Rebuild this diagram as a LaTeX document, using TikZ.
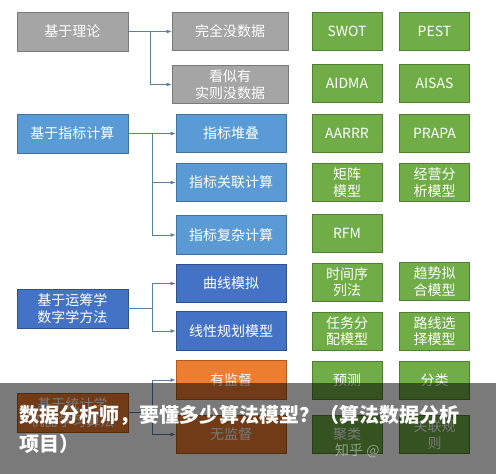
\documentclass[tikz,border=0pt]{standalone}
\usepackage{fontspec}
\setmainfont{Noto Sans CJK SC}
\usetikzlibrary{arrows.meta}
\definecolor{gfill}{HTML}{A5A5A5}\definecolor{gdraw}{HTML}{7A7A7A}
\definecolor{lbfill}{HTML}{5B9BD5}\definecolor{lbdraw}{HTML}{41719C}
\definecolor{dbfill}{HTML}{4472C4}\definecolor{dbdraw}{HTML}{2F528F}
\definecolor{ofill}{HTML}{ED7D31}\definecolor{odraw}{HTML}{AE5A21}
\definecolor{grfill}{HTML}{70AD47}\definecolor{grdraw}{HTML}{507E32}
\definecolor{conncol}{HTML}{5B7FA3}
\tikzset{
  box/.style={draw, line width=0.8pt, text=white, align=center, inner sep=0pt,
    font=\fontsize{14}{16.5}\selectfont},
  lbox/.style={box, minimum width=111pt, minimum height=39pt},
  mgbox/.style={box, minimum width=116pt, minimum height=38pt, fill=gfill, draw=gdraw},
  mbox/.style={box, minimum width=110pt, minimum height=38.5pt},
  gbox/.style={box, minimum width=70pt, minimum height=38pt, fill=grfill, draw=grdraw},
  grayc/.style={fill=gfill, draw=gdraw},
  lblue/.style={fill=lbfill, draw=lbdraw},
  dblue/.style={fill=dbfill, draw=dbdraw},
  orng/.style={fill=ofill, draw=odraw},
  conn/.style={draw=conncol, line width=0.8pt},
  arr/.style={conn, -{Latex[length=5pt,width=4pt]}},
}
\begin{document}
\begin{tikzpicture}[x=1pt,y=-1pt]
\useasboundingbox (0,0) rectangle (496,474);
\fill[white] (0,0) rectangle (496,474);
% left column
\node[lbox,grayc] (theory) at (72.5,31.5) {基于理论};
\node[lbox,lblue] (index) at (72.5,133.5) {基于指标计算};
\node[lbox,dblue] (ops) at (72.5,308.5) {基于运筹学\\数字学方法};
\node[lbox,orng] (stats) at (72.5,412.5) {基于统计学\\机器学习算法};
% middle column
\node[mgbox] (m1) at (230,31.5) {完全没数据};
\node[mgbox] (m2) at (230,84.5) {看似有\\实则没数据};
\node[mbox,lblue] (m3) at (231,133.5) {指标堆叠};
\node[mbox,lblue] (m4) at (231,182.5) {指标关联计算};
\node[mbox,lblue] (m5) at (231,235) {指标复杂计算};
\node[mbox,dblue] (m6) at (231,283.5) {曲线模拟};
\node[mbox,dblue] (m7) at (231,331) {线性规划模型};
\node[mbox,orng] (m8) at (231,380) {有监督};
\node[mbox,orng] (m9) at (231,434.5) {无监督};
% green columns
\node[gbox] (a1) at (347,31) {SWOT};
\node[gbox] (b1) at (434.5,31) {PEST};
\node[gbox] (a2) at (347,83.5) {AIDMA};
\node[gbox] (b2) at (434.5,83.5) {AISAS};
\node[gbox] (a3) at (347,133.5) {AARRR};
\node[gbox] (b3) at (434.5,133.5) {PRAPA};
\node[gbox] (a4) at (347,182.5) {矩阵\\模型};
\node[gbox] (b4) at (434.5,182.5) {经营分\\析模型};
\node[gbox] (a5) at (347,233.5) {RFM};
\node[gbox] (a6) at (347,282) {时间序\\列法};
\node[gbox] (b6) at (434.5,281.5) {趋势拟\\合模型};
\node[gbox] (a7) at (347,331) {任务分\\配模型};
\node[gbox] (b7) at (434.5,331) {路线选\\择模型};
\node[gbox] (a8) at (347,380.5) {预测};
\node[gbox] (b8) at (434.5,380.5) {分类};
\node[gbox] (a9) at (347,434.5) {聚类};
\node[gbox] (b9) at (434.5,434.5) {关联规\\则};
% connectors
\coordinate (j1) at (150,31.5);
\coordinate (j2) at (152,133.5);
\coordinate (j3) at (152,308.5);
\coordinate (j4) at (152,412.5);
\draw[arr] (theory.east) -- (m1.west);
\draw[arr] (j1) |- (m2.west);
\draw[arr] (index.east) -- (m3.west);
\draw[arr] (j2) |- (m4.west);
\draw[arr] (j2) |- (m5.west);
\draw[conn] (ops.east) -- (j3);
\draw[arr] (j3) |- (m6.west);
\draw[arr] (j3) |- (m7.west);
\draw[conn] (stats.east) -- (j4);
\draw[arr] (j4) |- (m8.west);
\draw[arr] (j4) |- (m9.west);
% overlay banner
\fill[black, opacity=0.52] (0,383) rectangle (496,474);
\node[anchor=west, text=white, inner sep=0pt, font=\fontsize{20}{24}\selectfont\bfseries] (title1) at (19,415) {数据分析师，要懂多少算法模型？（算法数据分析};
\node[anchor=west, text=white, inner sep=0pt, font=\fontsize{20}{24}\selectfont\bfseries] (title2) at (19,444) {项目）};
\node[anchor=west, text=white, text opacity=0.45, inner sep=0pt, font=\fontsize{14}{16}\selectfont] (wm) at (335,451) {知乎 @};
\end{tikzpicture}
\end{document}
